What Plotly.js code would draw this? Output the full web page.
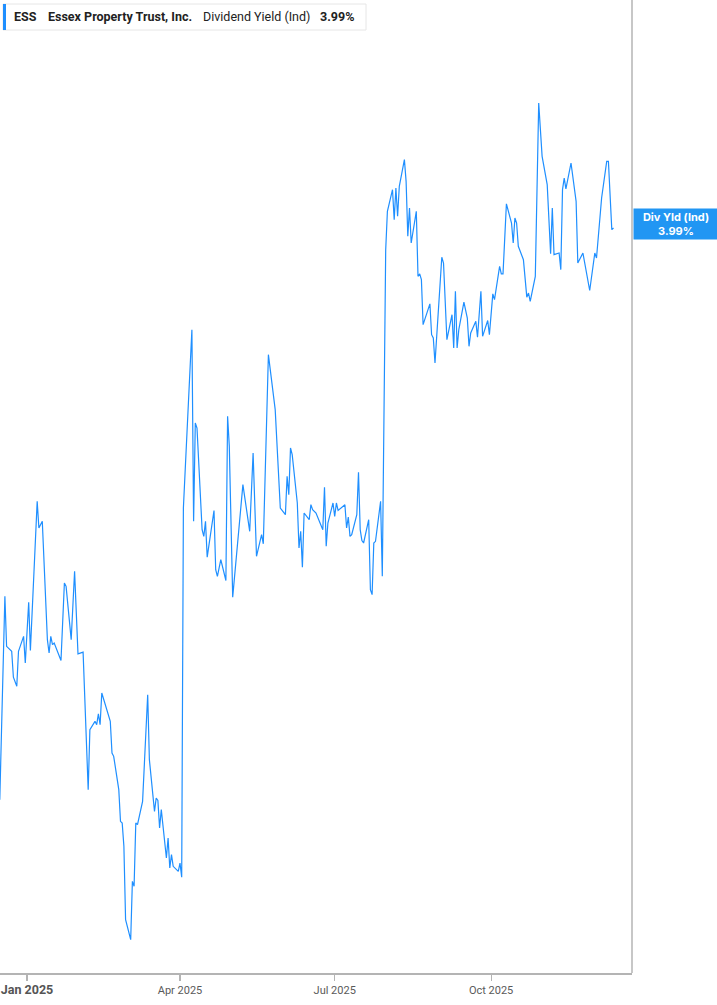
<!DOCTYPE html>
<html>
<head>
<meta charset="utf-8">
<script src="https://cdn.plot.ly/plotly-3.0.1.min.js"></script>
<style>
  html, body { margin: 0; padding: 0; background: #ffffff; }
  #chart { width: 717px; height: 1005px; }
</style>
</head>
<body>
<div id="chart"></div>
<script>
// ---- Data ----
const ticker = "ESS";
const companyName = "Essex Property Trust, Inc.";
const metricName = "Dividend Yield (Ind)";
const lastLabel = "3.99%";
const sideLabel = "Div Yld (Ind)";

const dates = [
  "2024-12-16","2024-12-19","2024-12-20","2024-12-23","2024-12-24","2024-12-26","2024-12-27","2024-12-30","2024-12-31",
  "2025-01-02","2025-01-03","2025-01-07","2025-01-08","2025-01-10","2025-01-13","2025-01-14","2025-01-15","2025-01-16","2025-01-17",
  "2025-01-21","2025-01-23","2025-01-24","2025-01-27","2025-01-29","2025-01-31",
  "2025-02-03","2025-02-06","2025-02-07","2025-02-10","2025-02-11","2025-02-12","2025-02-13","2025-02-14",
  "2025-02-19","2025-02-20","2025-02-21","2025-02-24","2025-02-25","2025-02-26","2025-02-27","2025-02-28",
  "2025-03-03","2025-03-04","2025-03-05","2025-03-06","2025-03-07","2025-03-10","2025-03-13","2025-03-14",
  "2025-03-17","2025-03-18","2025-03-19","2025-03-20","2025-03-21","2025-03-24","2025-03-25","2025-03-26","2025-03-27","2025-03-28",
  "2025-03-31","2025-04-01","2025-04-02","2025-04-03","2025-04-08","2025-04-09","2025-04-10","2025-04-11",
  "2025-04-14","2025-04-15","2025-04-16","2025-04-17","2025-04-21","2025-04-22","2025-04-23","2025-04-25",
  "2025-04-28","2025-04-29","2025-04-30","2025-05-02","2025-05-08","2025-05-12","2025-05-14","2025-05-16",
  "2025-05-19","2025-05-20","2025-05-23","2025-05-27","2025-05-30",
  "2025-06-02","2025-06-03","2025-06-04","2025-06-05","2025-06-06","2025-06-09","2025-06-10","2025-06-11","2025-06-12","2025-06-13",
  "2025-06-16","2025-06-17","2025-06-18","2025-06-20","2025-06-24","2025-06-25","2025-06-26","2025-06-27","2025-06-30",
  "2025-07-01","2025-07-02","2025-07-03","2025-07-07","2025-07-08","2025-07-09","2025-07-10","2025-07-11",
  "2025-07-14","2025-07-15","2025-07-16","2025-07-17","2025-07-18","2025-07-21","2025-07-22","2025-07-23","2025-07-24","2025-07-25",
  "2025-07-28","2025-07-29","2025-07-31","2025-08-01","2025-08-02","2025-08-04","2025-08-05","2025-08-06","2025-08-07","2025-08-08",
  "2025-08-11","2025-08-12","2025-08-13","2025-08-14","2025-08-15","2025-08-18","2025-08-19","2025-08-20","2025-08-21","2025-08-22",
  "2025-08-26","2025-08-27","2025-08-28","2025-08-29","2025-09-02","2025-09-03","2025-09-05",
  "2025-09-08","2025-09-09","2025-09-10","2025-09-11","2025-09-12","2025-09-15","2025-09-17","2025-09-18","2025-09-19",
  "2025-09-22","2025-09-23","2025-09-25","2025-09-26","2025-09-29","2025-09-30","2025-10-02","2025-10-03",
  "2025-10-06","2025-10-07","2025-10-08","2025-10-10","2025-10-13","2025-10-14","2025-10-15","2025-10-16","2025-10-17",
  "2025-10-20","2025-10-22","2025-10-23","2025-10-24","2025-10-27","2025-10-29","2025-10-31",
  "2025-11-03","2025-11-05","2025-11-06","2025-11-07","2025-11-10","2025-11-11","2025-11-12","2025-11-13","2025-11-14",
  "2025-11-17","2025-11-20","2025-11-21","2025-11-24","2025-11-28",
  "2025-12-01","2025-12-02","2025-12-05","2025-12-08","2025-12-09","2025-12-11","2025-12-12"
];

const yieldPct = [
  3.304,3.548,3.488,3.482,3.451,3.440,3.482,3.500,3.468,
  3.541,3.483,3.662,3.630,3.638,3.496,3.480,3.500,3.490,3.492,
  3.471,3.564,3.560,3.496,3.578,3.479,
  3.481,3.316,3.388,3.398,3.394,3.407,3.394,3.432,
  3.398,3.360,3.356,3.316,3.278,3.276,3.248,3.160,
  3.136,3.206,3.200,3.276,3.274,3.302,3.430,3.352,
  3.290,3.306,3.303,3.270,3.292,3.234,3.258,3.222,3.238,3.224,
  3.218,3.228,3.211,3.654,3.868,3.638,3.756,3.750,
  3.628,3.620,3.638,3.595,3.651,3.580,3.572,3.592,
  3.567,3.764,3.728,3.547,3.682,3.626,3.720,3.596,
  3.622,3.611,3.838,3.772,3.654,
  3.646,3.692,3.670,3.726,3.718,3.660,3.606,3.626,3.583,3.648,
  3.640,3.658,3.652,3.648,3.628,3.679,3.608,3.636,3.660,
  3.644,3.660,3.651,3.658,3.630,3.643,3.620,3.622,
  3.646,3.697,3.628,3.615,3.612,3.640,3.556,3.550,3.612,3.614,
  3.662,3.572,3.964,4.010,4.020,4.036,4.000,4.038,4.004,4.040,
  4.072,4.046,3.980,4.014,3.972,4.010,3.932,3.935,3.928,3.874,
  3.899,3.862,3.858,3.828,3.955,3.948,3.856,
  3.886,3.846,3.914,3.846,3.868,3.901,3.882,3.848,3.864,
  3.878,3.859,3.914,3.860,3.879,3.862,3.911,3.904,
  3.944,3.935,3.935,4.019,3.996,3.972,4.002,3.996,3.968,
  3.952,3.907,3.912,3.902,3.932,4.140,4.076,
  4.042,3.959,4.014,3.958,3.960,3.940,4.036,4.050,4.037,
  4.068,4.022,3.948,3.960,3.915,
  3.960,3.954,4.026,4.070,4.070,3.988,3.990
];

const tickDates = ["2025-01-01","2025-04-01","2025-07-01","2025-10-01"];
const tickLabels = ["Jan 2025","Apr 2025","Jul 2025","Oct 2025"];

// ---- Styling ----
const lineColor = "#1f8fff";
const axisGray = "#b4b4b4";
const headFont = "Roboto, 'Noto Sans', sans-serif";

const ticktext = tickLabels.map((t, i) =>
  i === 0 ? '<b><span style="font-size:12.5px;color:#555">' + t + '</span></b>' : t);

const lastVal = yieldPct[yieldPct.length - 1];

const trace = {
  x: dates,
  y: yieldPct,
  type: "scatter",
  mode: "lines",
  line: { color: lineColor, width: 1.2 },
  hoverinfo: "skip"
};

const W = 632, H = 973;
const px = v => v / W;
const py = v => 1 - v / H;

const layout = {
  width: 717,
  height: 1005,
  margin: { l: 0, r: 85, t: 0, b: 32, pad: 0 },
  paper_bgcolor: "#ffffff",
  plot_bgcolor: "#ffffff",
  showlegend: false,
  font: { family: "Roboto, 'Noto Sans', sans-serif", color: "#555555" },
  xaxis: {
    type: "date",
    range: ["2024-12-16 03:00", "2025-12-22 21:00"],
    tickmode: "array",
    tickvals: tickDates,
    ticktext: ticktext,
    ticks: "outside",
    ticklen: 6,
    tickwidth: 1.2,
    tickcolor: axisGray,
    tickfont: { size: 11, color: "#5a5a5a", family: "Roboto, sans-serif" },
    showline: true,
    linecolor: axisGray,
    linewidth: 1.5,
    showgrid: false,
    zeroline: false,
    fixedrange: true
  },
  yaxis: {
    range: [3.096, 4.2636],
    showticklabels: false,
    showgrid: false,
    zeroline: false,
    showline: false,
    ticks: "",
    fixedrange: true
  },
  shapes: [
    // right border of plot
    { type: "line", xref: "paper", yref: "paper", x0: 1, x1: 1, y0: 0, y1: 1,
      line: { color: axisGray, width: 1.5 } },
    // header box
    { type: "rect", xref: "paper", yref: "paper",
      x0: px(3), x1: px(366), y0: py(30), y1: py(4),
      fillcolor: "#ffffff", line: { color: "#e6e6e6", width: 1 } },
    { type: "rect", xref: "paper", yref: "paper",
      x0: px(3), x1: px(6), y0: py(30), y1: py(4),
      fillcolor: lineColor, line: { width: 0 } }
  ],
  annotations: [
    { xref: "paper", yref: "paper", x: px(12), y: py(17), xanchor: "left", yanchor: "middle",
      text: "<b>" + ticker + "</b>", showarrow: false,
      font: { size: 12.5, color: "#222222", family: headFont } },
    { xref: "paper", yref: "paper", x: px(46), y: py(17), xanchor: "left", yanchor: "middle",
      text: "<b>" + companyName + "</b>", showarrow: false,
      font: { size: 12.5, color: "#222222", family: headFont } },
    { xref: "paper", yref: "paper", x: px(201), y: py(17), xanchor: "left", yanchor: "middle",
      text: metricName, showarrow: false,
      font: { size: 12.5, color: "#222222", family: headFont } },
    { xref: "paper", yref: "paper", x: px(318), y: py(17), xanchor: "left", yanchor: "middle",
      text: "<b>" + lastLabel + "</b>", showarrow: false,
      font: { size: 12.5, color: "#222222", family: headFont } },
    // right value tag
    { xref: "paper", yref: "y", x: 1, y: lastVal, xanchor: "left", yanchor: "middle",
      xshift: 1, yshift: 4,
      text: "<b>" + sideLabel + "<br>" + lastLabel + "</b>", showarrow: false,
      width: 84, height: 30, align: "center", valign: "middle",
      bgcolor: "#2196f3", borderpad: 0,
      font: { size: 11, color: "#ffffff", family: "Inter, Roboto, sans-serif" } }
  ]
};

Plotly.newPlot("chart", [trace], layout, { displayModeBar: false, staticPlot: true });
</script>
</body>
</html>
